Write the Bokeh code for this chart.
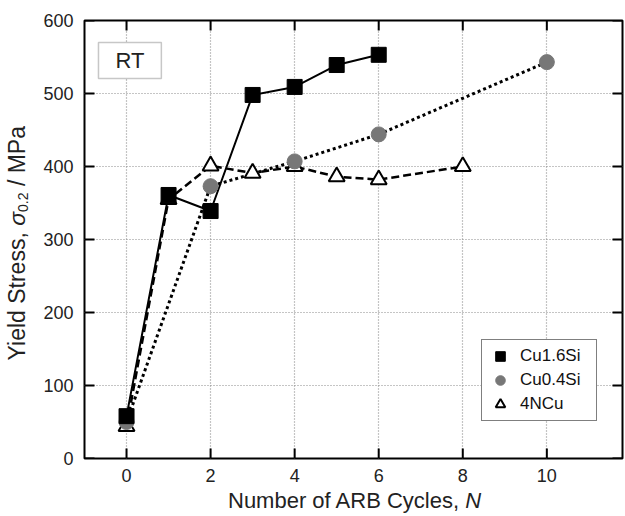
from bokeh.embed import file_html
from bokeh.layouts import column, row
from bokeh.models import (BoxAnnotation, Div, FixedTicker, Label, Legend,
                          LegendItem, Range1d)
from bokeh.plotting import figure
from bokeh.resources import INLINE

# Yield stress (MPa) after N accumulative roll-bonding cycles
cu16si_n = [0, 1, 2, 3, 4, 5, 6]
cu16si_ys = [58, 361, 339, 498, 509, 539, 553]

cu04si_n = [0, 2, 4, 6, 10]
cu04si_ys = [50, 373, 407, 444, 543]

ncu_n = [0, 1, 2, 3, 4, 5, 6, 8]
ncu_ys = [44, 355, 401, 391, 400, 386, 382, 400]

x_ticks = [0, 2, 4, 6, 8, 10]
y_ticks = [0, 100, 200, 300, 400, 500, 600]

FONT = "Liberation Sans"
YLAB_W, XLAB_H = 40, 28                    # side strips holding the titles
PW, PH = 585, 488                          # figure size
BL, BR, BT, BB = 43, 3, 20, 30             # figure borders around the frame
X0, X1, Y0, Y1 = -1, 11.8, 0, 600
TICK = 10                                  # inward tick length, px

FW, FH = PW - BL - BR, PH - BT - BB
DX = (X1 - X0) / FW                        # data units per pixel
DY = (Y1 - Y0) / FH


def px_x(px):
    return X0 + (px - BL) * DX


def px_y(py):
    return Y0 + (BT + FH - py) * DY


p = figure(width=PW, height=PH, output_backend="svg", toolbar_location=None,
           x_range=Range1d(X0, X1), y_range=Range1d(Y0, Y1),
           min_border_left=BL, min_border_right=BR,
           min_border_top=BT, min_border_bottom=BB)
p.background_fill_color = "white"
p.border_fill_color = "white"
p.outline_line_color = "black"
p.outline_line_width = 2

for ax in (p.xaxis[0], p.yaxis[0]):
    ax.axis_line_color = None
    ax.major_tick_in = 0
    ax.major_tick_out = 0
    ax.minor_tick_line_color = None
    ax.major_label_text_font = FONT
    ax.major_label_text_font_size = "18px"
    ax.major_label_text_color = "#222222"
p.xaxis[0].ticker = FixedTicker(ticks=x_ticks)
p.yaxis[0].ticker = FixedTicker(ticks=y_ticks)
p.xaxis[0].major_label_standoff = 10
p.yaxis[0].major_label_standoff = 11

p.xgrid.ticker = FixedTicker(ticks=x_ticks)
p.ygrid.ticker = FixedTicker(ticks=y_ticks)
for g in (p.xgrid[0], p.ygrid[0]):
    g.grid_line_color = "#8a8a8a"
    g.grid_line_dash = "1 2"
    g.grid_line_width = 1.2

# inward tick marks on all four frame edges
ty = TICK * DY
tx = TICK * DX
nx, ny = len(x_ticks), len(y_ticks)
p.segment(x0=x_ticks * 2, x1=x_ticks * 2,
          y0=[Y0] * nx + [Y1] * nx, y1=[Y0 + ty] * nx + [Y1 - ty] * nx,
          line_color="black", line_width=2)
p.segment(x0=[X0] * ny + [X1] * ny, x1=[X0 + tx] * ny + [X1 - tx] * ny,
          y0=y_ticks * 2, y1=y_ticks * 2,
          line_color="black", line_width=2)

# series lines
p.line(cu16si_n, cu16si_ys, line_color="black", line_width=2)
p.line(cu04si_n, cu04si_ys, line_color="black", line_width=3, line_dash="3 3")
p.line(ncu_n, ncu_ys, line_color="black", line_width=2.5, line_dash="8 4")

# series markers
r_ncu = p.scatter(ncu_n, ncu_ys, marker="triangle", size=16,
                  fill_color="white", line_color="black", line_width=2)
r_04 = p.scatter(cu04si_n, cu04si_ys, marker="circle", size=15,
                 fill_color="#777777", line_color="#777777")
r_16 = p.scatter(cu16si_n, cu16si_ys, marker="square", size=15,
                 fill_color="black", line_color="black")

legend = Legend(items=[LegendItem(label="Cu1.6Si", renderers=[r_16]),
                       LegendItem(label="Cu0.4Si", renderers=[r_04]),
                       LegendItem(label="4NCu", renderers=[r_ncu])],
                location=(397, 37), orientation="vertical")
legend.label_text_font = FONT
legend.label_text_font_size = "17px"
legend.label_text_color = "#111111"
legend.label_height = 24
legend.label_width = 72
legend.glyph_height = 24
legend.glyph_width = 28
legend.label_standoff = 6
legend.spacing = 0
legend.padding = 4
legend.margin = 0
legend.border_line_color = "black"
legend.border_line_width = 1.5
legend.background_fill_color = "white"
legend.background_fill_alpha = 1
p.add_layout(legend, "center")

# "RT" tag in the upper-left corner
p.add_layout(BoxAnnotation(left=px_x(97 - YLAB_W), right=px_x(160 - YLAB_W),
                           top=px_y(42), bottom=px_y(78),
                           fill_color="white", fill_alpha=1,
                           line_color="#444444", line_width=1.5))
p.add_layout(Label(x=px_x(128.5 - YLAB_W), y=px_y(60), text="RT",
                   text_font=FONT, text_font_size="22px", text_color="#222222",
                   text_align="center", text_baseline="middle"))

# axis titles with italic symbols and a subscript
ylab = Div(width=YLAB_W, height=PH, margin=0, text=(
    f'<div style="width:{YLAB_W}px;height:{PH - 2}px;display:flex;'
    'align-items:center;justify-content:center;">'
    f'<span style="writing-mode:vertical-rl;transform:rotate(180deg);'
    f"font-family:'{FONT}';font-size:23px;line-height:26px;color:#222;"
    'white-space:nowrap;">Yield Stress, <i>σ</i>'
    '<sub style="font-size:14px;">0.2</sub> / MPa</span></div>'))
xlab = Div(width=YLAB_W + PW, height=XLAB_H, margin=0, text=(
    f"<div style=\"font-family:'{FONT}';font-size:22px;line-height:26px;"
    'padding-left:228px;color:#222;white-space:nowrap;">'
    'Number of ARB Cycles, <i>N</i></div>'))

layout = column(row(ylab, p, spacing=0), xlab, spacing=0)

open("out.html", "w").write(file_html(layout, INLINE))
